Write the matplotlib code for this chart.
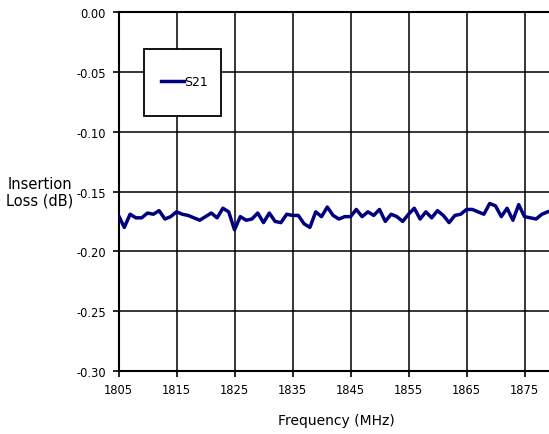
import numpy as np
import matplotlib
matplotlib.use("Agg")
import matplotlib.pyplot as plt
from matplotlib.patches import Rectangle

plt.rcParams['font.family'] = ['DejaVu Sans']
plt.rcParams['axes.unicode_minus'] = False

# S21 insertion loss, 1 MHz steps from 1805 MHz
freq = np.arange(1805, 1880)
s21 = [-0.170, -0.180, -0.169, -0.172, -0.172, -0.168, -0.169, -0.166, -0.173, -0.171,
       -0.167, -0.169, -0.170, -0.172, -0.174, -0.171, -0.168, -0.172, -0.164, -0.167,
       -0.182, -0.171, -0.174, -0.173, -0.168, -0.176, -0.168, -0.175, -0.176, -0.169,
       -0.170, -0.170, -0.177, -0.180, -0.167, -0.171, -0.163, -0.170, -0.173, -0.171,
       -0.171, -0.165, -0.171, -0.167, -0.170, -0.165, -0.175, -0.169, -0.171, -0.175,
       -0.169, -0.164, -0.173, -0.167, -0.172, -0.166, -0.170, -0.176, -0.170, -0.169,
       -0.165, -0.165, -0.167, -0.169, -0.160, -0.162, -0.171, -0.164, -0.174, -0.161,
       -0.171, -0.172, -0.173, -0.169, -0.167]
xticks = [1805, 1815, 1825, 1835, 1845, 1855, 1865, 1875]
yticks = [0.00, -0.05, -0.10, -0.15, -0.20, -0.25, -0.30]

fig = plt.figure(figsize=(5.49, 4.35), dpi=100)
ax = fig.add_axes([118.5 / 549, 1 - 372 / 435, 435 / 549, 359 / 435])

ax.plot(freq, s21, color='#000080', lw=2.5, label='S21', zorder=3)

ax.set_xlim(1805, 1880)
ax.set_ylim(-0.30, 0.0)
ax.set_xticks(xticks)
ax.set_yticks(yticks)
ax.set_yticklabels(['%.2f' % v for v in yticks])
ax.grid(True, color='black', lw=1.1)
ax.set_axisbelow(True)
for s in ax.spines.values():
    s.set_linewidth(1.5)
ax.spines['right'].set_visible(False)
ax.tick_params(direction='out', length=4, width=1.2, labelsize=8.3, pad=5)

ax.set_xlabel('Frequency (MHz)', fontsize=10, labelpad=12)
fig.text(40 / 549, 1 - 193 / 435, 'Insertion\nLoss (dB)', fontsize=10.5,
         ha='center', va='center', linespacing=1.15)

# legend box
rect = Rectangle((144 / 549, 1 - 117 / 435), 77 / 549, 67 / 435, transform=fig.transFigure,
                 facecolor='white', edgecolor='black', lw=1.3, zorder=5)
fig.patches.append(rect)
leg = fig.legend(loc='center', bbox_to_anchor=(184 / 549, 1 - 83 / 435), frameon=False,
                 handlelength=1.85, handletextpad=0.0, fontsize=9, borderpad=0)
leg.set_zorder(6)

fig.savefig('out.png', dpi=100)
